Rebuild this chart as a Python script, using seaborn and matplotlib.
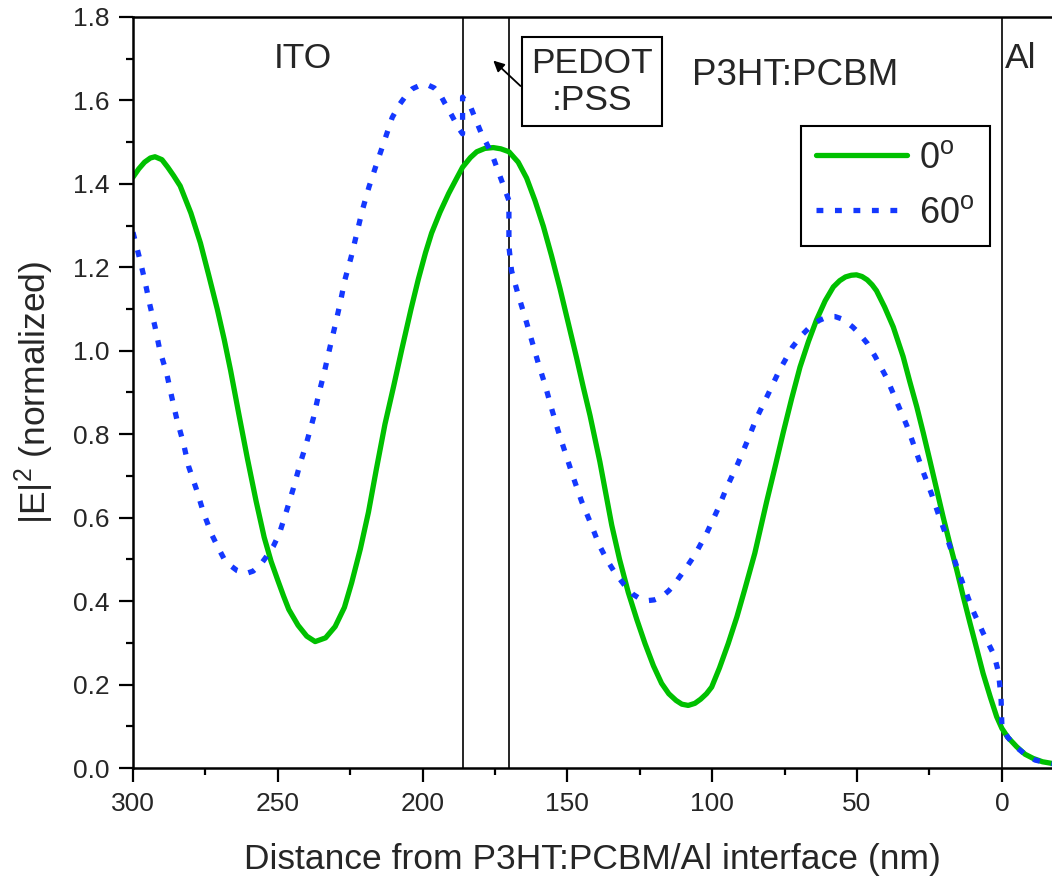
import numpy as np
import pandas as pd
import matplotlib
matplotlib.use("Agg")
import matplotlib.pyplot as plt
from matplotlib.ticker import MultipleLocator
import seaborn as sns

# values
green_x = [300, 298, 296, 294, 292.4, 290, 288, 286, 283.7, 280, 276.7, 273.8, 270.9, 268.5,
           266.3, 263.5, 260.5, 257.5, 254.7, 252.3, 250, 248, 246.2, 243, 240, 237.1, 233.5,
           230.2, 227, 224.5, 221.5, 218.7, 216, 213, 210, 207.2, 204, 201.5, 199, 196.9, 194,
           191, 188.5, 186.2, 183.5, 181.3, 178.5, 175.6, 173, 170.2, 167, 164.1, 161.2, 158.3,
           155.5, 152.6, 149.7, 146.8, 144.5, 142.2, 138.8, 134.7, 132, 129, 126, 123.2, 120.3,
           117.5, 115, 112.5, 110.5, 108.3, 106, 104, 102, 100.2, 97.5, 94.5, 91.5, 88.7, 85.3,
           81.2, 78.3, 75.5, 72.6, 69.7, 66.8, 64, 61, 58.2, 56, 54, 52, 50.2, 48.3, 46.5, 44.8,
           43.3, 40.5, 37.5, 34.1, 31.8, 29.4, 27.1, 24.9, 22.6, 20.3, 18, 15.6, 13.3, 11, 8.7,
           6.5, 4, 1.8, 0, -2, -5.1, -8, -10.8, -14, -17.3]
green_y = [1.416, 1.436, 1.452, 1.462, 1.465, 1.458, 1.440, 1.420, 1.395, 1.330, 1.258, 1.180,
           1.100, 1.027, 0.953, 0.850, 0.742, 0.640, 0.553, 0.495, 0.450, 0.412, 0.380, 0.342,
           0.316, 0.303, 0.312, 0.339, 0.385, 0.444, 0.525, 0.613, 0.715, 0.824, 0.915, 1.003,
           1.100, 1.171, 1.235, 1.282, 1.332, 1.377, 1.410, 1.440, 1.463, 1.477, 1.485, 1.487,
           1.484, 1.477, 1.452, 1.414, 1.360, 1.298, 1.228, 1.150, 1.066, 0.982, 0.912, 0.845,
           0.734, 0.582, 0.500, 0.421, 0.355, 0.298, 0.245, 0.203, 0.178, 0.162, 0.153, 0.150,
           0.155, 0.165, 0.178, 0.194, 0.240, 0.298, 0.362, 0.430, 0.515, 0.639, 0.722, 0.804,
           0.885, 0.961, 1.022, 1.074, 1.120, 1.153, 1.168, 1.177, 1.181, 1.182, 1.178, 1.170,
           1.158, 1.144, 1.105, 1.057, 0.986, 0.926, 0.866, 0.802, 0.738, 0.670, 0.602, 0.538,
           0.475, 0.410, 0.347, 0.286, 0.227, 0.170, 0.123, 0.095, 0.074, 0.051, 0.033, 0.023,
           0.015, 0.011]

blue_x = [300, 297.7, 295.9, 294.2, 292.4, 290.7, 288.4, 286.6, 284.9, 282.6, 280.8, 278.1,
          275.6, 272.7, 270.5, 268.6, 266.5, 264, 261, 258.5, 256, 254.1, 251.5, 249.4, 246.9,
          244.6, 242.3, 240, 237.7, 236, 233.9, 232, 230.2, 228.5, 226.8, 224.7, 222.7, 220.8,
          218.5, 215.8, 213.2, 210.5, 208, 205.5, 203.5, 201, 198.5, 196, 194, 192.3, 190,
          187.7, 186.2,
          186.2, 183.3, 179.9, 176.1, 173.3, 170.2,
          170.2, 169.3, 167, 164.7, 162.3, 160.1, 157.7, 155.4, 153.2, 150.5, 148, 145.1,
          142, 139, 136.3, 133.6, 130.5, 127.3, 125, 122.5, 120, 117.5, 115, 113, 111.7, 109,
          106, 101.9, 98.1, 94.7, 91.2, 87.8, 84.7, 80.7, 76.9, 72.3, 69, 65.7, 63, 61, 59,
          57.6, 55.5, 53.5, 51.5, 49.6, 46.5, 43.8, 39.8, 36.3, 32.9, 30, 27.2, 24.3, 21.6,
          18.7, 16, 13.1, 10.1, 6.5, 2.7, 1.2, 0.3, 0,
          -2, -4.8, -8, -11.5, -14, -17.3]
blue_y = [1.284, 1.221, 1.168, 1.111, 1.058, 1.000, 0.947, 0.889, 0.837, 0.779, 0.723, 0.668,
          0.611, 0.558, 0.527, 0.502, 0.486, 0.473, 0.466, 0.472, 0.487, 0.505, 0.532, 0.563,
          0.618, 0.671, 0.729, 0.781, 0.839, 0.892, 0.950, 1.008, 1.061, 1.113, 1.171, 1.224,
          1.282, 1.337, 1.393, 1.450, 1.503, 1.559, 1.590, 1.614, 1.628, 1.636, 1.638, 1.630,
          1.615, 1.593, 1.565, 1.535, 1.520,
          1.608, 1.582, 1.524, 1.472, 1.419, 1.360,
          1.250, 1.192, 1.134, 1.082, 1.024, 0.971, 0.918, 0.860, 0.808, 0.750, 0.697, 0.639,
          0.587, 0.534, 0.498, 0.468, 0.440, 0.416, 0.406, 0.401, 0.403, 0.410, 0.425, 0.440,
          0.454, 0.480, 0.511, 0.563, 0.620, 0.677, 0.729, 0.785, 0.839, 0.896, 0.952, 1.009,
          1.038, 1.061, 1.073, 1.079, 1.082, 1.082, 1.077, 1.068, 1.057, 1.044, 1.018, 0.987,
          0.935, 0.878, 0.822, 0.766, 0.710, 0.657, 0.602, 0.547, 0.491, 0.435, 0.379, 0.324,
          0.271, 0.230, 0.170, 0.100,
          0.074, 0.051, 0.033, 0.019, 0.015, 0.010]

interfaces = [186.2, 170.2, 0]

sns.set_theme(style="ticks")
plt.rcParams["font.family"] = ["Liberation Sans", "DejaVu Sans"]
plt.rcParams["mathtext.fontset"] = "custom"
plt.rcParams["mathtext.rm"] = "Liberation Sans"
plt.rcParams["mathtext.it"] = "Liberation Sans"

fig = plt.figure(figsize=(10.52, 8.84), dpi=100)
ax = fig.add_axes([0.1264, 0.1312, 0.8736, 0.8496])

df_g = pd.DataFrame({"x": green_x, "y": green_y})
df_b = pd.DataFrame({"x": blue_x, "y": blue_y})

sns.lineplot(data=df_g, x="x", y="y", sort=False, estimator=None, ax=ax,
             color="#00c000", lw=3.8, label="0$^\\mathrm{o}$")
sns.lineplot(data=df_b, x="x", y="y", sort=False, estimator=None, ax=ax,
             color="#1438ff", lw=3.8, label="60$^\\mathrm{o}$")
ax.lines[0].set_solid_joinstyle("round")
ax.lines[1].set_dashes([1.3, 2.2])

for xv in interfaces:
    ax.axvline(xv, color="black", lw=1.2, zorder=1)

ax.set_xlim(300, -17.3)
ax.set_ylim(0, 1.8)
ax.xaxis.set_major_locator(MultipleLocator(50))
ax.xaxis.set_minor_locator(MultipleLocator(25))
ax.set_yticks(np.arange(0, 1.81, 0.2))
ax.set_yticklabels([f"{v:.1f}" for v in np.arange(0, 1.81, 0.2)])
ax.yaxis.set_minor_locator(MultipleLocator(0.1))
ax.tick_params(which="major", direction="out", length=10, width=1.6, labelsize=19,
               color="black", pad=7)
ax.tick_params(which="minor", direction="out", length=5, width=1.6, color="black")
for s in ["left", "bottom", "top"]:
    ax.spines[s].set_linewidth(1.8)
    ax.spines[s].set_color("black")
ax.spines["right"].set_visible(False)

ax.set_xlabel("Distance from P3HT:PCBM/Al interface (nm)", fontsize=25.5, labelpad=20)
ax.set_ylabel("|E|$^2$ (normalized)", fontsize=25.5, labelpad=12)

ax.text(241.3, 1.70, "ITO", fontsize=25.5, ha="center", va="center")
ax.text(71.5, 1.66, "P3HT:PCBM", fontsize=26.5, ha="center", va="center")
ax.text(-1.0, 1.70, "Al", fontsize=25.5, ha="left", va="center")
ax.text(141.5, 1.645, "PEDOT\n:PSS", fontsize=25.5, ha="center", va="center",
        multialignment="center", linespacing=1.15,
        bbox=dict(boxstyle="square,pad=0.27", fc="white", ec="black", lw=1.5))
ax.annotate("", xy=(176.3, 1.70), xytext=(165.5, 1.630),
            arrowprops=dict(arrowstyle="-|>", color="black", lw=1.3, mutation_scale=16))

leg = ax.legend(loc="upper right", bbox_to_anchor=(0.9325, 0.855), borderaxespad=0,
                fontsize=26, frameon=True, fancybox=False, edgecolor="black", framealpha=1,
                handlelength=2.5, handletextpad=0.35, borderpad=0.42, labelspacing=0.55)
leg.get_frame().set_linewidth(1.5)

fig.savefig("out.png", dpi=100)
